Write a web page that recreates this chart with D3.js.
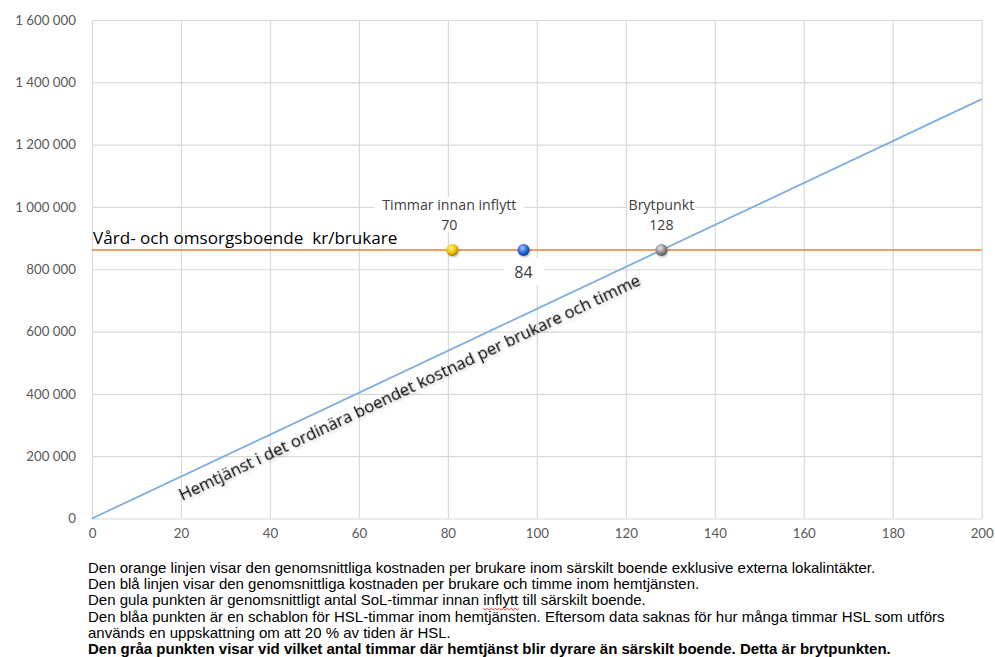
<!DOCTYPE html>
<html><head><meta charset="utf-8">
<script src="https://cdn.jsdelivr.net/npm/d3@7"></script>
<style>body{margin:0;background:#fff}svg{display:block}</style>
</head><body>
<script>
// ---- data ----
const xTicks = [0,20,40,60,80,100,120,140,160,180,200];
const yTicks = [0,200000,400000,600000,800000,1000000,1200000,1400000,1600000];
const orangeLevel = 862000;               // kr/brukare, särskilt boende
const blueHours = [0, 200];
const blueCost = [0, 1346000];            // hemtjänst kostnad
const pointHours = [81, 97, 128];
const pointCost = [862000, 862000, 862000];
const pointNames = ["Timmar innan inflytt", "", "Brytpunkt"];
const pointLabels = ["70", "84", "128"];
const pointColors = ["yellow", "blue", "gray"];
const orangeLabel = "Vård- och omsorgsboende  kr/brukare";
const blueLabel = "Hemtjänst i det ordinära boendet kostnad per brukare och timme";
const notes = [
  "Den orange linjen visar den genomsnittliga kostnaden per brukare inom särskilt boende exklusive externa lokalintäkter.",
  "Den blå linjen visar den genomsnittliga kostnaden per brukare och timme inom hemtjänsten.",
  "Den gula punkten är genomsnittligt antal SoL-timmar innan inflytt till särskilt boende.",
  "Den blåa punkten är en schablon för HSL-timmar inom hemtjänsten. Eftersom data saknas för hur många timmar HSL som utförs",
  "används en uppskattning om att 20 % av tiden är HSL.",
  "Den gråa punkten visar vid vilket antal timmar där hemtjänst blir dyrare än särskilt boende. Detta är brytpunkten."
];

const W = 995, H = 657;
const svg = d3.select("body").append("svg").attr("width", W).attr("height", H);
const x = d3.scaleLinear().domain([0, 200]).range([92, 981.7]);
const y = d3.scaleLinear().domain([0, 1600000]).range([518.5, 20]);
const fmt = d3.formatLocale({decimal: ",", thousands: "\u00a0", grouping: [3], currency: ["", ""]}).format(",d");

const defs = svg.append("defs");
const grads = {yellow: ["#fff6a0", "#f5c800", "#a88200"], blue: ["#a8ccff", "#2f6fe0", "#123f94"], gray: ["#e8e8e8", "#969696", "#555"]};
Object.entries(grads).forEach(([k, c]) => {
  const g = defs.append("radialGradient").attr("id", "g-" + k).attr("cx", "40%").attr("cy", "35%").attr("r", "65%");
  g.append("stop").attr("offset", "0%").attr("stop-color", c[0]);
  g.append("stop").attr("offset", "55%").attr("stop-color", c[1]);
  g.append("stop").attr("offset", "100%").attr("stop-color", c[2]);
});
const sh = defs.append("filter").attr("id", "tshadow").attr("x", "-5%").attr("y", "-50%").attr("width", "110%").attr("height", "200%");
sh.append("feDropShadow").attr("dx", 1).attr("dy", 2).attr("stdDeviation", 1.5).attr("flood-color", "#000").attr("flood-opacity", 0.22);
const psh = defs.append("filter").attr("id", "pshadow").attr("x", "-50%").attr("y", "-50%").attr("width", "200%").attr("height", "200%");
psh.append("feDropShadow").attr("dx", 1).attr("dy", 1).attr("stdDeviation", 1).attr("flood-color", "#000").attr("flood-opacity", 0.3);

// gridlines
svg.append("g").attr("transform", `translate(0,${y(0)})`)
  .call(d3.axisBottom(x).tickValues(xTicks).tickSize(-(y(0) - y(1600000))).tickFormat(""))
  .call(g => g.select(".domain").remove())
  .call(g => g.selectAll("line").attr("stroke", "#d9d9d9").attr("stroke-width", 1.2));
svg.append("g").attr("transform", `translate(${x(0)},0)`)
  .call(d3.axisLeft(y).tickValues(yTicks).tickSize(-(x(200) - x(0))).tickFormat(""))
  .call(g => g.select(".domain").remove())
  .call(g => g.selectAll("line").attr("stroke", "#d9d9d9").attr("stroke-width", 1.2));

// axis labels
const axFont = "Lato, 'Open Sans', sans-serif";
const osFont = "'Open Sans', Lato, sans-serif";
svg.append("g").attr("transform", `translate(${x(0)},0)`)
  .call(d3.axisLeft(y).tickValues(yTicks).tickSize(0).tickPadding(16).tickFormat(fmt))
  .call(g => g.select(".domain").remove())
  .call(g => g.selectAll("text").attr("fill", "#595959").style("font-family", axFont).style("font-size", "13.3px"));
svg.append("g").attr("transform", `translate(0,${y(0)})`)
  .call(d3.axisBottom(x).tickValues(xTicks).tickSize(0).tickPadding(10).tickFormat(d3.format("d")))
  .call(g => g.select(".domain").remove())
  .call(g => g.selectAll("text").attr("fill", "#595959").style("font-family", axFont).style("font-size", "13.3px"));

// orange line
svg.append("line").attr("x1", x(0)).attr("x2", x(200)).attr("y1", y(orangeLevel)).attr("y2", y(orangeLevel))
  .attr("stroke", "#ed7d31").attr("stroke-width", 1.6);
// blue line
const line = d3.line().x((d, i) => x(blueHours[i])).y(d => y(d));
svg.append("path").datum(blueCost).attr("d", line).attr("fill", "none").attr("stroke", "#7cafdd").attr("stroke-width", 1.8);

// orange label
svg.append("text").attr("x", x(0) + 1).attr("y", y(orangeLevel) - 6).text(orangeLabel)
  .style("white-space", "pre").attr("xml:space", "preserve")
  .style("font-family", osFont).style("font-size", "17.1px").attr("fill", "#000");

// blue label rotated along line
const ang = Math.atan2(y(blueCost[1]) - y(blueCost[0]), x(blueHours[1]) - x(blueHours[0])) * 180 / Math.PI;
const lx = x(20.3), ly = y(blueCost[1] * 20.3 / 200) + 25;
svg.append("text").attr("transform", `translate(${lx},${ly}) rotate(${ang})`).text(blueLabel)
  .style("font-family", osFont).style("font-size", "16.6px").attr("fill", "#000").attr("filter", "url(#tshadow)");

// point labels (with white boxes)
const lblFont = osFont;
pointHours.forEach((h, i) => {
  const cx = x(h), cy = y(pointCost[i]);
  const g = svg.append("g");
  if (i === 1) {
    g.append("rect").attr("x", cx - 20).attr("y", cy + 8).attr("width", 40).attr("height", 27).attr("fill", "#fff");
    g.append("text").attr("x", cx).attr("y", cy + 28).attr("text-anchor", "middle").text(pointLabels[i])
      .style("font-family", lblFont).style("font-size", "16px").attr("fill", "#404040");
  } else {
    const tw = i === 0 ? 150 : 68;
    const off = i === 0 ? -3 : 0;
    g.append("rect").attr("x", cx + off - tw / 2).attr("y", cy - 53).attr("width", tw).attr("height", 35).attr("fill", "#fff");
    g.append("text").attr("x", cx + off).attr("y", cy - 40).attr("text-anchor", "middle").text(pointNames[i])
      .style("font-family", lblFont).style("font-size", "14.2px").attr("fill", "#404040");
    g.append("text").attr("x", cx + off).attr("y", cy - 20).attr("text-anchor", "middle").text(pointLabels[i])
      .style("font-family", lblFont).style("font-size", "14.2px").attr("fill", "#404040");
  }
});
// markers
svg.selectAll("circle.pt").data(pointHours).join("circle").attr("class", "pt")
  .attr("cx", d => x(d)).attr("cy", (d, i) => y(pointCost[i])).attr("r", 6)
  .attr("fill", (d, i) => `url(#g-${pointColors[i]})`).attr("filter", "url(#pshadow)");

// notes
const nt = svg.append("g").style("font-family", "'Liberation Sans', Arial, sans-serif").style("font-size", "15px").attr("fill", "#000");
const nBase = 573, nStep = 16.2;
notes.forEach((t, i) => {
  const el = nt.append("text").attr("x", 88).attr("y", nBase + i * nStep).text(t);
  if (i === 5) el.style("font-weight", "bold");
});
// spell-check squiggle under "inflytt"
const ln2 = nt.selectAll("text").nodes()[2];
const full = notes[2], idx = full.indexOf("inflytt");
const sx = 88 + ln2.getSubStringLength(0, idx), ex = sx + ln2.getSubStringLength(idx, 7);
const sy = nBase + 2 * nStep + 3;
let p = `M${sx},${sy}`;
for (let xx = sx, k = 0; xx < ex; xx += 2, k++) p += ` L${xx + 2},${sy + (k % 2 ? 0 : 1.5)}`;
svg.append("path").attr("d", p).attr("fill", "none").attr("stroke", "#e02020").attr("stroke-width", 0.9);
</script>
</body></html>
